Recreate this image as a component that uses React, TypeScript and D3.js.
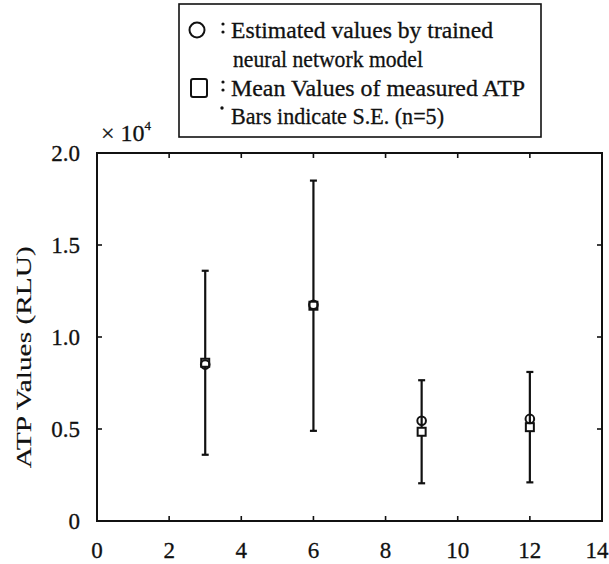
import React from "react";
import * as d3 from "d3";

// Days of incubation at which ATP was sampled
const days = [3, 6, 9, 12];
// Neural-network estimates (x 10^4 RLU)
const estimated = [0.85, 1.175, 0.545, 0.555];
// Mean of measured ATP (x 10^4 RLU)
const measuredMean = [0.86, 1.17, 0.485, 0.51];
// Standard error of the measured mean (x 10^4 RLU)
const standardError = [0.5, 0.68, 0.28, 0.3];

const xTicks = [0, 2, 4, 6, 8, 10, 12, 14];
const yTicks = [0, 0.5, 1.0, 1.5, 2.0];
const yTickLabels = ["0", "0.5", "1.0", "1.5", "2.0"];

const legendLines = [
  "Estimated values by trained",
  "neural network model",
  "Mean Values of measured ATP",
  "Bars indicate S.E. (n=5)",
];

const W = 609;
const H = 564;
const FONT = "'Liberation Serif', 'DejaVu Serif', serif";
const INK = "#111";

// Slight outline thickens the serif glyphs to a print-like weight
const textStyle = { fill: INK, stroke: INK, strokeWidth: 0.3 };

export default function App() {
  const x = d3.scaleLinear().domain([0, 14]).range([97, 602]);
  const y = d3.scaleLinear().domain([0, 2]).range([521, 153]);
  const tick = 5;

  return (
    <svg
      width={W}
      height={H}
      style={{ position: "absolute", left: 0, top: 0, background: "#fff" }}
      fontFamily={FONT}
    >
      <rect x={0} y={0} width={W} height={H} fill="#fff" />

      {/* legend */}
      <rect x={179} y={4} width={362} height={133} fill="#fff" stroke={INK} strokeWidth={1.6} />
      <circle cx={197} cy={30} r={7.5} fill="none" stroke={INK} strokeWidth={2} />
      <rect x={191} y={79} width={16} height={18} rx={2} fill="none" stroke={INK} strokeWidth={2} />
      <circle cx={223} cy={24} r={1.6} fill={INK} />
      <circle cx={223} cy={32} r={1.6} fill={INK} />
      <circle cx={223} cy={82} r={1.6} fill={INK} />
      <circle cx={223} cy={90} r={1.6} fill={INK} />
      <circle cx={222} cy={108} r={1.7} fill={INK} />
      <text x={231} y={38} fontSize={23} {...textStyle} textLength={262} lengthAdjust="spacingAndGlyphs">{legendLines[0]}</text>
      <text x={233} y={67} fontSize={23} {...textStyle} textLength={190} lengthAdjust="spacingAndGlyphs">{legendLines[1]}</text>
      <text x={231} y={96} fontSize={23} {...textStyle} textLength={294} lengthAdjust="spacingAndGlyphs">{legendLines[2]}</text>
      <text x={231} y={124} fontSize={23} {...textStyle} textLength={213} lengthAdjust="spacingAndGlyphs">{legendLines[3]}</text>

      {/* exponent */}
      <text x={101} y={141} fontSize={24} {...textStyle}>
        × 10<tspan fontSize={13} dy={-11}>4</tspan>
      </text>

      {/* frame */}
      <rect
        x={x(0)}
        y={y(2)}
        width={x(14) - x(0)}
        height={y(0) - y(2)}
        fill="none"
        stroke={INK}
        strokeWidth={2}
      />

      {/* x ticks, bottom & top */}
      {xTicks.slice(1, -1).map((t) => (
        <g key={"xt" + t}>
          <line x1={x(t)} x2={x(t)} y1={y(0)} y2={y(0) - tick} stroke={INK} strokeWidth={1.6} />
          <line x1={x(t)} x2={x(t)} y1={y(2)} y2={y(2) + tick} stroke={INK} strokeWidth={1.6} />
        </g>
      ))}
      {xTicks.map((t, i) => (
        <text
          key={"xl" + t}
          x={i === xTicks.length - 1 ? x(t) - 5 : x(t)}
          y={558}
          fontSize={23}
          textAnchor="middle"
          {...textStyle}
        >
          {t}
        </text>
      ))}

      {/* y ticks, left & right */}
      {yTicks.slice(1, -1).map((t) => (
        <g key={"yt" + t}>
          <line x1={x(0)} x2={x(0) + tick} y1={y(t)} y2={y(t)} stroke={INK} strokeWidth={1.6} />
          <line x1={x(14)} x2={x(14) - tick} y1={y(t)} y2={y(t)} stroke={INK} strokeWidth={1.6} />
        </g>
      ))}
      {yTicks.map((t, i) => (
        <text key={"yl" + t} x={80} y={y(t) + 8} fontSize={23} textAnchor="end" {...textStyle}>
          {yTickLabels[i]}
        </text>
      ))}

      <text
        transform={`translate(31,${y(0.89)}) rotate(-90)`}
        fontSize={22}
        textAnchor="middle"
        textLength={222}
        lengthAdjust="spacingAndGlyphs"
        fill={INK}
        stroke={INK}
        strokeWidth={0.15}
      >
        ATP Values (RLU)
      </text>

      {/* error bars */}
      {days.map((d, i) => {
        const cx = x(d);
        const top = y(measuredMean[i] + standardError[i]);
        const bot = y(measuredMean[i] - standardError[i]);
        return (
          <g key={"eb" + d} stroke={INK} strokeWidth={2.2}>
            <line x1={cx} x2={cx} y1={top} y2={bot} />
            <line x1={cx - 3.5} x2={cx + 3.5} y1={top} y2={top} />
            <line x1={cx - 3.5} x2={cx + 3.5} y1={bot} y2={bot} />
          </g>
        );
      })}

      {/* measured means */}
      {days.map((d, i) => (
        <rect
          key={"sq" + d}
          x={x(d) - 4}
          y={y(measuredMean[i]) - 4}
          width={8}
          height={8}
          fill="#fff"
          stroke={INK}
          strokeWidth={2}
        />
      ))}
      {/* network estimates */}
      {days.map((d, i) => (
        <circle
          key={"ci" + d}
          cx={x(d)}
          cy={y(estimated[i])}
          r={4.3}
          fill="none"
          stroke={INK}
          strokeWidth={2}
        />
      ))}
    </svg>
  );
}
